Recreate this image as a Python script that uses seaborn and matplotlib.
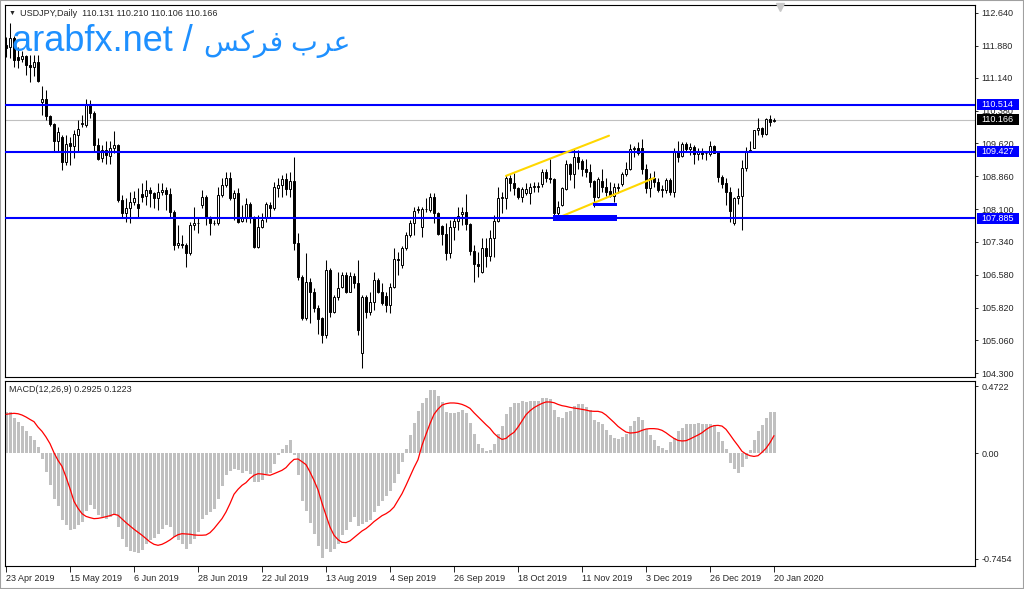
import numpy as np
import pandas as pd
import matplotlib
matplotlib.use("Agg")
import matplotlib.pyplot as plt
import matplotlib.transforms as mtransforms
from matplotlib.patches import Rectangle
import seaborn as sns

# USDJPY daily candles
opens = [111.91, 111.86, 112.05, 111.63, 111.57, 111.65, 111.44, 111.40, 111.50, 110.59,
         110.66, 110.26, 110.06, 109.68, 109.77, 109.20, 109.62, 109.55, 109.82, 110.06,
         110.05, 110.51, 110.33, 109.58, 109.29, 109.47, 109.34, 109.52, 109.58, 108.31,
         108.00, 108.12, 108.26, 108.21, 108.44, 108.41, 108.54, 108.47, 108.35, 108.49,
         108.54, 108.44, 108.04, 107.27, 107.30, 107.27, 107.08, 107.73, 107.77, 108.20,
         108.39, 107.89, 107.79, 107.77, 108.43, 108.66, 108.81, 108.36, 108.47, 107.83,
         107.89, 108.21, 107.89, 107.23, 107.69, 107.89, 108.20, 108.12, 108.60, 108.66,
         108.80, 108.57, 108.75, 107.31, 106.54, 105.57, 106.42, 106.17, 105.82, 105.57,
         105.19, 106.69, 105.73, 106.07, 106.30, 106.57, 106.19, 106.56, 106.38, 104.76,
         106.07, 105.73, 105.96, 106.46, 106.19, 106.10, 105.88, 106.30, 106.95, 106.81,
         107.21, 107.49, 107.79, 108.07, 107.69, 108.10, 108.08, 108.39, 108.00, 107.72,
         107.52, 107.08, 107.69, 107.82, 107.98, 108.04, 107.75, 107.13, 106.84, 106.64,
         107.19, 107.02, 107.44, 107.82, 108.35, 108.35, 108.83, 108.70, 108.60, 108.39,
         108.47, 108.47, 108.62, 108.61, 108.67, 108.95, 108.83, 108.79, 108.00, 108.20,
         108.56, 109.14, 108.91, 109.30, 109.21, 109.04, 108.95, 108.75, 108.37, 108.75,
         108.62, 108.52, 108.41, 108.60, 108.67, 108.91, 109.03, 109.49, 109.51, 109.51,
         109.03, 108.60, 108.83, 108.72, 108.55, 108.54, 108.77, 108.50, 109.45, 109.34,
         109.60, 109.49, 109.54, 109.37, 109.45, 109.39, 109.37, 109.55, 109.43, 108.85,
         108.71, 108.50, 107.77, 108.35, 108.41, 109.06, 109.45, 109.52, 109.92, 109.97,
         109.85, 110.18, 110.131]
highs = [112.09, 112.40, 112.10, 111.86, 111.75, 111.67, 111.67, 111.67, 111.67, 110.95,
         110.86, 110.28, 110.09, 110.01, 109.82, 109.82, 109.78, 109.93, 110.16, 110.28,
         110.66, 110.63, 110.36, 109.74, 109.58, 109.68, 109.68, 109.91, 109.60, 108.43,
         108.35, 108.49, 108.52, 108.58, 108.70, 108.77, 108.62, 108.50, 108.70, 108.70,
         108.62, 108.58, 108.08, 107.73, 107.50, 107.31, 107.81, 108.16, 107.89, 108.54,
         108.43, 107.93, 107.85, 108.62, 108.81, 108.97, 108.97, 108.54, 108.58, 108.20,
         108.35, 108.27, 107.93, 107.96, 108.00, 108.27, 108.27, 108.73, 108.83, 108.89,
         108.93, 108.97, 109.31, 107.54, 106.58, 107.08, 106.50, 106.27, 105.88, 105.61,
         106.92, 106.73, 106.11, 106.65, 106.65, 106.65, 106.65, 106.61, 106.92, 106.11,
         106.11, 106.19, 106.65, 106.50, 106.38, 106.17, 106.38, 107.19, 107.11, 107.25,
         107.56, 107.85, 108.16, 108.17, 108.16, 108.35, 108.47, 108.47, 108.04, 107.73,
         107.77, 107.85, 107.92, 108.16, 108.16, 108.44, 107.77, 107.27, 107.11, 107.42,
         107.42, 107.62, 107.96, 108.62, 108.50, 108.89, 108.89, 108.93, 108.62, 108.62,
         108.70, 108.70, 108.73, 108.73, 109.03, 109.04, 109.27, 108.81, 108.29, 108.62,
         109.24, 109.16, 109.49, 109.47, 109.26, 109.27, 109.14, 108.77, 108.85, 109.04,
         108.81, 108.72, 108.70, 108.70, 108.95, 109.18, 109.60, 109.55, 109.66, 109.72,
         109.14, 108.93, 108.98, 108.81, 108.66, 108.81, 108.83, 109.51, 109.68, 109.66,
         109.66, 109.62, 109.58, 109.51, 109.51, 109.44, 109.68, 109.58, 109.45, 108.89,
         108.83, 108.62, 108.39, 108.60, 109.24, 109.54, 109.68, 109.94, 110.20, 109.99,
         110.20, 110.29, 110.210]
lows = [111.63, 111.59, 111.40, 111.36, 111.51, 111.20, 111.05, 111.17, 111.05, 110.28,
        110.16, 110.03, 109.45, 109.45, 109.01, 109.12, 109.12, 109.29, 109.45, 110.00,
        110.01, 110.20, 109.45, 109.24, 109.20, 109.14, 109.14, 109.39, 108.27, 107.89,
        107.81, 107.79, 108.20, 107.89, 108.27, 108.20, 108.16, 108.12, 108.08, 108.43,
        108.08, 107.89, 107.15, 107.19, 107.19, 106.77, 107.04, 107.62, 107.54, 108.12,
        107.73, 107.50, 107.73, 107.73, 108.39, 108.62, 108.31, 107.85, 107.77, 107.81,
        107.81, 107.79, 107.19, 107.19, 107.66, 107.81, 107.89, 108.08, 108.39, 108.39,
        108.43, 108.39, 107.15, 106.46, 105.53, 105.53, 105.46, 105.73, 105.22, 104.99,
        105.11, 105.61, 105.69, 106.00, 106.27, 106.15, 106.17, 106.27, 105.19, 104.42,
        105.57, 105.65, 105.77, 106.15, 105.88, 105.73, 105.69, 106.27, 106.57, 106.73,
        107.15, 107.46, 107.50, 108.00, 107.46, 108.04, 108.04, 107.77, 107.50, 107.27,
        106.92, 106.96, 107.39, 107.62, 107.73, 107.62, 107.04, 106.42, 106.54, 106.61,
        106.77, 106.89, 107.00, 107.81, 108.00, 108.10, 108.52, 108.43, 108.33, 108.26,
        108.43, 108.23, 108.50, 108.49, 108.62, 108.73, 108.70, 107.92, 107.89, 108.18,
        108.54, 108.77, 108.58, 109.04, 108.87, 108.85, 108.62, 108.16, 108.35, 108.50,
        108.41, 108.39, 108.26, 108.47, 108.64, 108.87, 109.01, 109.31, 109.35, 108.91,
        108.47, 108.39, 108.62, 108.50, 108.39, 108.47, 108.43, 108.39, 109.18, 109.31,
        109.43, 109.35, 109.15, 109.24, 109.27, 109.24, 109.34, 109.39, 108.73, 108.60,
        108.20, 107.81, 107.73, 108.21, 107.62, 108.98, 109.43, 109.51, 109.82, 109.76,
        109.82, 110.03, 110.106]
closes = [111.84, 112.05, 111.55, 111.55, 111.65, 111.44, 111.40, 111.50, 111.07, 110.66,
          110.26, 110.06, 109.68, 109.89, 109.20, 109.61, 109.55, 109.83, 109.95, 110.09,
          110.51, 110.32, 109.58, 109.26, 109.47, 109.35, 109.52, 109.58, 108.31, 108.00,
          108.12, 108.27, 108.36, 108.12, 108.39, 108.54, 108.47, 108.35, 108.49, 108.54,
          108.44, 108.04, 107.27, 107.31, 107.27, 107.08, 107.73, 107.77, 107.78, 108.39,
          107.89, 107.77, 107.77, 108.43, 108.66, 108.81, 108.35, 108.47, 107.81, 107.89,
          108.21, 107.89, 107.23, 107.69, 107.85, 108.21, 108.12, 108.62, 108.66, 108.80,
          108.57, 108.75, 107.31, 106.54, 105.57, 106.42, 106.17, 105.82, 105.56, 105.19,
          106.69, 105.73, 106.07, 106.27, 106.57, 106.19, 106.56, 106.38, 105.30, 106.07,
          105.73, 105.96, 106.46, 106.19, 105.92, 105.88, 106.30, 106.95, 106.93, 107.21,
          107.50, 107.79, 108.06, 108.10, 108.10, 108.11, 108.39, 108.00, 107.52, 107.52,
          107.08, 107.69, 107.82, 107.94, 108.04, 107.75, 107.13, 106.84, 106.79, 107.19,
          107.02, 107.44, 107.82, 108.35, 108.37, 108.81, 108.70, 108.60, 108.37, 108.56,
          108.56, 108.62, 108.62, 108.63, 108.95, 108.83, 108.79, 108.00, 108.16, 108.58,
          109.14, 108.91, 109.30, 109.18, 109.04, 108.95, 108.73, 108.37, 108.80, 108.62,
          108.50, 108.40, 108.62, 108.62, 108.91, 109.03, 109.49, 109.51, 109.41, 109.04,
          108.60, 108.83, 108.72, 108.54, 108.57, 108.77, 108.50, 109.45, 109.31, 109.60,
          109.49, 109.54, 109.37, 109.45, 109.38, 109.40, 109.55, 109.41, 108.85, 108.67,
          108.50, 108.06, 108.35, 108.41, 109.06, 109.45, 109.48, 109.93, 109.97, 109.85,
          110.18, 110.12, 110.166]

# MACD(12,26,9): histogram (main) and signal line
macd_main = [0.289, 0.289, 0.249, 0.219, 0.188, 0.155, 0.120, 0.094, 0.042, -0.040,
             -0.134, -0.228, -0.322, -0.376, -0.475, -0.510, -0.545, -0.533, -0.510, -0.486,
             -0.409, -0.369, -0.392, -0.439, -0.451, -0.463, -0.451, -0.428, -0.522, -0.604,
             -0.663, -0.691, -0.698, -0.705, -0.682, -0.639, -0.616, -0.597, -0.573, -0.533,
             -0.510, -0.522, -0.592, -0.616, -0.639, -0.674, -0.639, -0.604, -0.557, -0.463,
             -0.439, -0.416, -0.392, -0.322, -0.235, -0.157, -0.127, -0.110, -0.122, -0.141,
             -0.127, -0.146, -0.204, -0.204, -0.188, -0.146, -0.141, -0.075, -0.016, 0.031,
             0.054, 0.089, -0.016, -0.157, -0.338, -0.409, -0.494, -0.573, -0.658, -0.740,
             -0.674, -0.698, -0.674, -0.639, -0.580, -0.545, -0.486, -0.451, -0.517, -0.498,
             -0.486, -0.475, -0.416, -0.376, -0.338, -0.306, -0.270, -0.212, -0.150, -0.063,
             0.031, 0.125, 0.214, 0.294, 0.353, 0.388, 0.442, 0.442, 0.402, 0.360,
             0.289, 0.284, 0.284, 0.289, 0.301, 0.282, 0.212, 0.132, 0.061, 0.038,
             0.014, 0.019, 0.061, 0.132, 0.188, 0.273, 0.324, 0.353, 0.353, 0.364,
             0.360, 0.364, 0.364, 0.364, 0.388, 0.388, 0.378, 0.301, 0.254, 0.244,
             0.289, 0.296, 0.331, 0.343, 0.343, 0.324, 0.301, 0.230, 0.219, 0.207,
             0.160, 0.125, 0.106, 0.101, 0.113, 0.132, 0.188, 0.223, 0.254, 0.230,
             0.172, 0.125, 0.089, 0.047, 0.038, 0.019, 0.075, 0.106, 0.153, 0.179,
             0.202, 0.202, 0.207, 0.212, 0.207, 0.207, 0.207, 0.195, 0.148, 0.085,
             0.026, -0.071, -0.115, -0.141, -0.099, -0.045, 0.019, 0.089, 0.155, 0.200,
             0.247, 0.287, 0.2925]
macd_signal = [0.273, 0.277, 0.280, 0.277, 0.268, 0.254, 0.237, 0.221, 0.183, 0.153,
               0.113, 0.066, 0.002, -0.052, -0.094, -0.169, -0.251, -0.341, -0.390, -0.428,
               -0.447, -0.456, -0.463, -0.461, -0.456, -0.449, -0.442, -0.432, -0.439, -0.465,
               -0.491, -0.515, -0.538, -0.559, -0.580, -0.604, -0.627, -0.644, -0.651, -0.644,
               -0.630, -0.613, -0.592, -0.576, -0.569, -0.571, -0.573, -0.578, -0.580, -0.580,
               -0.578, -0.562, -0.533, -0.498, -0.463, -0.416, -0.357, -0.291, -0.256, -0.228,
               -0.209, -0.179, -0.157, -0.146, -0.148, -0.153, -0.157, -0.146, -0.134, -0.122,
               -0.103, -0.071, -0.045, -0.042, -0.061, -0.082, -0.134, -0.193, -0.259, -0.353,
               -0.439, -0.522, -0.580, -0.611, -0.630, -0.632, -0.620, -0.597, -0.573, -0.550,
               -0.533, -0.510, -0.484, -0.463, -0.442, -0.428, -0.409, -0.381, -0.334, -0.287,
               -0.228, -0.165, -0.103, -0.047, 0.054, 0.132, 0.207, 0.273, 0.310, 0.338,
               0.348, 0.353, 0.353, 0.350, 0.343, 0.331, 0.315, 0.284, 0.256, 0.228,
               0.200, 0.174, 0.139, 0.113, 0.096, 0.103, 0.127, 0.146, 0.183, 0.226,
               0.270, 0.298, 0.320, 0.336, 0.350, 0.360, 0.360, 0.355, 0.343, 0.334,
               0.329, 0.322, 0.317, 0.313, 0.308, 0.303, 0.296, 0.294, 0.294, 0.287,
               0.268, 0.242, 0.216, 0.188, 0.167, 0.148, 0.141, 0.143, 0.148, 0.160,
               0.169, 0.172, 0.172, 0.169, 0.160, 0.143, 0.122, 0.103, 0.089, 0.085,
               0.087, 0.099, 0.113, 0.127, 0.143, 0.165, 0.183, 0.193, 0.195, 0.190,
               0.167, 0.129, 0.089, 0.052, 0.012, -0.007, -0.019, -0.024, -0.019, 0.005,
               0.033, 0.073, 0.1223]

date_labels = ['23 Apr 2019', '15 May 2019', '6 Jun 2019', '28 Jun 2019', '22 Jul 2019',
               '13 Aug 2019', '4 Sep 2019', '26 Sep 2019', '18 Oct 2019', '11 Nov 2019',
               '3 Dec 2019', '26 Dec 2019', '20 Jan 2020']
date_bars = [0, 16, 32, 48, 64, 80, 96, 112, 128, 144, 160, 176, 192]
price_ticks = [112.640, 111.880, 111.140, 110.380, 109.620, 108.860,
               108.100, 107.340, 106.580, 105.820, 105.060, 104.300]
macd_ticks = [0.4722, 0.0, -0.7454]

# drawn objects: support / resistance levels, channel, zones
level_lines = [110.514, 109.427, 107.885]
bid_price = 110.166
upper_bars, upper_prices = [125.0, 150.75], [108.87, 109.80]
lower_bars, lower_prices = [137.75, 162.0], [107.89, 108.82]
zone_bars = [(136.75, 152.75), (146.75, 152.75)]
zone_prices = [(107.825, 107.964), (108.17, 108.242)]

sns.set_style("white")
plt.rcParams['font.family'] = ['Liberation Sans', 'DejaVu Sans']

df = pd.DataFrame({'bar': np.arange(len(closes)), 'open': opens, 'high': highs,
                   'low': lows, 'close': closes, 'macd': macd_main, 'signal': macd_signal})
up = df['close'] >= df['open']

W, H = 1024, 589
fig = plt.figure(figsize=(W / 100, H / 100), dpi=100)
ax = fig.add_axes([5 / W, 1 - 377 / H, 970 / W, 372 / H])
ax2 = fig.add_axes([5 / W, 1 - 566 / H, 970 / W, 185 / H])

# candles
ax.vlines(df['bar'], df['low'], df['high'], color='black', lw=0.75, zorder=2)
body_lo = np.minimum(df['open'], df['close'])
body_h = (df['close'] - df['open']).abs().clip(lower=0.004)
ax.bar(df['bar'], body_h, bottom=body_lo, width=0.62,
       color=np.where(up, 'white', 'black'), edgecolor='black', linewidth=0.7, zorder=3)

for lv in level_lines:
    ax.axhline(lv, color='#0000ff', lw=1.5, zorder=4)
ax.axhline(bid_price, color='#c0c0c0', lw=0.8, zorder=1)
ax.plot(upper_bars, upper_prices, color='#ffd700', lw=1.5, zorder=4)
ax.plot(lower_bars, lower_prices, color='#ffd700', lw=1.5, zorder=4)
for (b0, b1), (p0, p1) in zip(zone_bars, zone_prices):
    ax.add_patch(Rectangle((b0, p0), b1 - b0, p1 - p0, fc='#0000ff', ec='none', zorder=4))

ax.set_xlim(-0.25, 242.25)
ax.set_ylim(104.214, 112.825)
ax.set_xticks([])
ax.yaxis.tick_right()
ax.set_yticks(price_ticks)
ax.set_yticklabels([f'{p:.3f}' for p in price_ticks])
ax.tick_params(axis='y', right=True, length=2.5, width=0.7, labelsize=6.5, pad=2)

# price boxes on the right scale
trans = mtransforms.blended_transform_factory(ax.transAxes, ax.transData)
box_w = 42 / 970
box_h = 11 / 43.2
for lv, fc in zip(level_lines + [bid_price], ['#0000ff'] * 3 + ['black']):
    ax.add_patch(Rectangle((1.0 + 2 / 970, lv - box_h / 2), box_w, box_h, transform=trans,
                           fc=fc, ec='none', zorder=9, clip_on=False))
    ax.text(1.0 + 6 / 970, lv, f'{lv:.3f}', transform=trans, ha='left', va='center',
            fontsize=6.5, color='white', zorder=10, clip_on=False)
ax.plot([193.5], [112.78], marker='v', color='#c8c8c8', ms=6, clip_on=False, zorder=5)

# MACD panel
ax2.bar(df['bar'], df['macd'], width=0.75, color='#c0c0c0', linewidth=0, zorder=2)
sns.lineplot(data=df, x='bar', y='signal', color='red', linewidth=0.9, ax=ax2, zorder=3)
ax2.set_xlim(-0.25, 242.25)
ax2.set_ylim(-0.797, 0.508)
ax2.set_xlabel('')
ax2.set_ylabel('')
ax2.yaxis.tick_right()
ax2.set_yticks(macd_ticks)
ax2.set_yticklabels(['0.4722', '0.00', '-0.7454'])
ax2.tick_params(axis='y', right=True, length=2.5, width=0.7, labelsize=6.5, pad=2)
ax2.set_xticks(date_bars)
ax2.set_xticklabels(date_labels, ha='left')
ax2.tick_params(axis='x', bottom=True, length=4, width=0.7, labelsize=6.5, pad=1.5)

for a in (ax, ax2):
    for s in a.spines.values():
        s.set_color('black')
        s.set_linewidth(0.8)

# header texts
fig.text(9 / W, 1 - 13 / H, '\u25bc', fontsize=5, va='center')
fig.text(20 / W, 1 - 13 / H,
         f'USDJPY,Daily  {opens[-1]:.3f} {highs[-1]:.3f} {lows[-1]:.3f} {closes[-1]:.3f}',
         fontsize=6.5, va='center')
fig.text(9 / W, 1 - 389 / H, f'MACD(12,26,9) {macd_main[-1]:.4f} {macd_signal[-1]:.4f}',
         fontsize=6.5, va='center')
arabic = '\ufeb2\ufedb\ufeae\ufed3 \ufe8f\ufeae\ufecb'
fig.text(12 / W, 1 - 51 / H, 'arabfx.net /', fontsize=26, color='#1e90ff', va='baseline')
fig.text(204 / W, 1 - 51 / H, arabic, fontsize=20.5, color='#1e90ff', va='baseline')

fig.add_artist(Rectangle((0, 0), 1, 1, transform=fig.transFigure, fill=False,
                         ec='#a0a0a0', lw=1.5))

fig.savefig('out.png', dpi=100)
